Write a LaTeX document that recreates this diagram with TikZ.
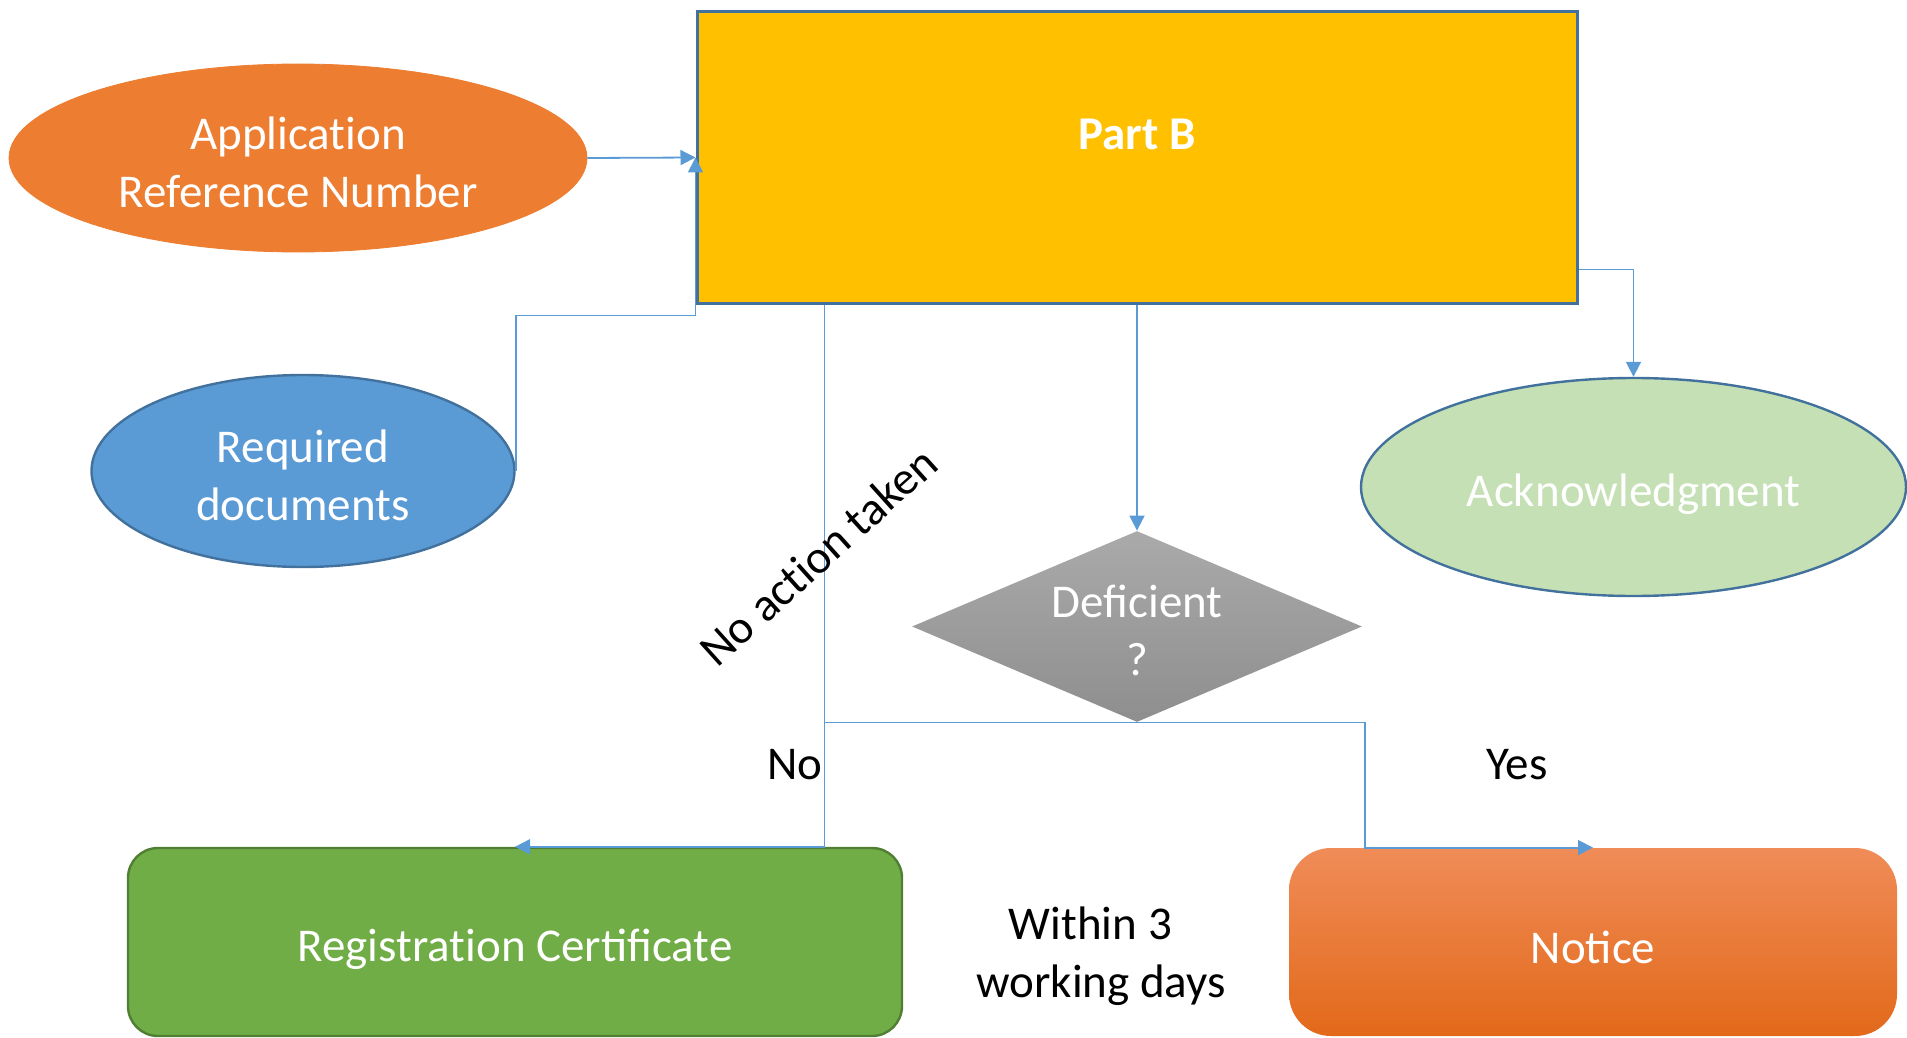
\documentclass[tikz,border=0pt]{standalone}
\usepackage{fontspec}
\setmainfont{Carlito}
\usetikzlibrary{shapes.geometric,arrows.meta,calc}
\definecolor{pbC}{HTML}{FFC000}
\definecolor{bluB}{HTML}{41719C}
\definecolor{appC}{HTML}{ED7D31}
\definecolor{reqC}{HTML}{5B9BD5}
\definecolor{ackC}{HTML}{C5E0B4}
\definecolor{regC}{HTML}{70AD47}
\definecolor{regB}{HTML}{507E32}
\definecolor{ntTop}{HTML}{F08C58}
\definecolor{ntBot}{HTML}{E2691A}
\definecolor{diaTop}{HTML}{AAAAAA}
\definecolor{diaBot}{HTML}{8E8E8E}
\definecolor{connC}{HTML}{5B9BD5}
\newcommand{\nolig}{\kern0pt }
\tikzset{
  basefont/.style={font=\fontsize{23.5}{29}\selectfont},
  txtw/.style={text=white, align=center, inner sep=0},
  txtb/.style={text=black, align=center, inner sep=0},
  ell/.style={ellipse, inner sep=0},
  line/.style={draw=connC, line width=0.9pt},
  conn/.style={line, -{Triangle[width=7.5pt,length=7.5pt]}},
}
\begin{document}
\begin{tikzpicture}[x=0.5pt,y=-0.5pt,basefont]
\useasboundingbox (0,0) rectangle (1907,1038);
\clip (0,0) rectangle (1907,1038);

% main box
\node[draw=bluB, line width=1.5pt, fill=pbC, minimum width=440pt, minimum height=145.5pt, inner sep=0] (partb) at (1137,157.5) {};
\node[txtw, font=\fontsize{23.5}{29}\selectfont\bfseries] (pbt) at (1137,134) {Part B};

% ellipses
\node[ell, fill=appC, draw=appC, minimum width=289pt, minimum height=94pt] (app) at (298,158) {};
\node[txtw] (appt) at (298,162) {Applicat\nolig ion\\Reference Number};
\node[ell, fill=reqC, draw=bluB, line width=1.2pt, minimum width=211.5pt, minimum height=96pt] (req) at (303,471) {};
\node[txtw] (reqt) at (303,475) {Required\\documents};
\node[ell, fill=ackC, draw=bluB, line width=1.2pt, minimum width=272.5pt, minimum height=109pt] (ack) at (1633.5,487) {};
\node[txtw] (ackt) at (1633.5,494) {Acknowledgment};

% decision
\node[diamond, minimum width=225pt, minimum height=95.5pt, inner sep=0, top color=diaTop, bottom color=diaBot, draw=none] (dia) at (1137,626.5) {};
\node[txtw] (dtx) at (1137,630) {Deficient\\?};

% result boxes
\node[rectangle, rounded corners=15pt, fill=regC, draw=regB, line width=1.2pt, minimum width=387pt, minimum height=94pt] (reg) at (515,942) {};
\node[txtw] (regt) at (515,949) {Registrat\nolig ion Certificate};
\node[rectangle, rounded corners=21pt, top color=ntTop, bottom color=ntBot, draw=none, minimum width=304pt, minimum height=94pt] (notice) at (1593,942) {};
\node[txtw] (noticet) at (1593,947) {Notice};

% connectors
\draw[conn] (app.east) -- (partb.west);
\draw[conn] (req.east) |- ($(partb.south west)+(0,11)$) -- (partb.west);
\draw[conn] ($(partb.south east)+(0,-35)$) -| (ack.north);
\draw[conn] (partb.south) -- (dia.north);
\coordinate (na) at ($(partb.south west)+(129,0)$);
\draw[conn] (na) |- (reg.north);
\draw[line] (dia.south) -- (dia.south -| na);
\coordinate (yb) at ($(notice.north west)+(76,0)$);
\draw[conn] (dia.south) -| (yb) -- (notice.north);

% labels
\node[txtb, rotate=42] (lna) at (818,556) {No act\nolig ion taken};
\node[txtb] (lno) at (795,765) {No};
\node[txtb] (lyes) at (1517,765) {Yes};
\node[txtb] (lwd) at (1101,956) {Within 3\hspace*{0.45em}\\working days};
\end{tikzpicture}
\end{document}
